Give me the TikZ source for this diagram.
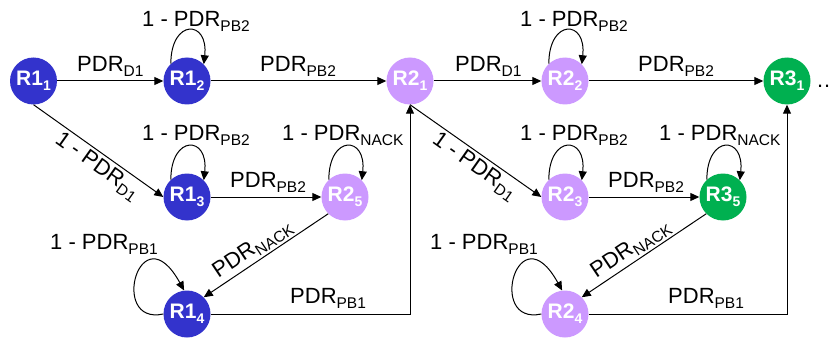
\documentclass[tikz,border=0pt]{standalone}
\usepackage{fontspec}
\setmainfont{Liberation Sans}
\usetikzlibrary{arrows.meta}
\definecolor{roundone}{HTML}{3333CC}
\definecolor{roundtwo}{HTML}{CC99FF}
\definecolor{roundthree}{HTML}{00B050}
\newcommand{\pdr}[1]{PDR\raisebox{-5pt}{\fontsize{15.5}{16}\selectfont #1}}
\newcommand{\rstate}[2]{R#1\raisebox{-5pt}{\fontsize{14}{14}\selectfont #2}}
\tikzset{
	state/.style={circle, fill=#1, minimum size=47pt, inner sep=0pt, text=white, font=\fontsize{21}{21}\selectfont\bfseries},
	trans/.style={-{Triangle[length=9pt,width=8pt]}, line width=1pt},
	lbl/.style={inner sep=0pt, font=\fontsize{22}{22}\selectfont},
}

\begin{document}
\begin{tikzpicture}[x=1pt, y=1pt]
		%%%%% START %%%%%
		\useasboundingbox (0, 0) rectangle (832, 338);
		
		\node[state=roundone] (r11) at (33.5, 257) {\rstate{1}{1}};
		\node[state=roundone] (r12) at (187, 257) {\rstate{1}{2}};
		\node[state=roundone] (r13) at (187, 141) {\rstate{1}{3}};
		\node[state=roundone] (r14) at (187, 24) {\rstate{1}{4}};
		\node[state=roundtwo] (r25) at (345, 141) {\rstate{2}{5}};
		
		\node[state=roundtwo] (r21) at (410, 257) {\rstate{2}{1}};
		\node[state=roundtwo] (r22) at (565, 257) {\rstate{2}{2}};
		\node[state=roundtwo] (r23) at (565, 141) {\rstate{2}{3}};
		\node[state=roundtwo] (r24) at (565, 24) {\rstate{2}{4}};
		\node[state=roundthree] (r35) at (723, 141) {\rstate{3}{5}};
		
		\node[state=roundthree] (r31) at (787, 257) {\rstate{3}{1}};
		\node[lbl, anchor=base west] (more) at (816, 251) {…};
		
		% first round
		\draw[trans] (r11) -- (r12);
		\draw[trans] (r12) -- (r21);
		\draw[trans] (r13) -- (r25);
		\draw[trans] (r11.south) -- node[lbl, sloped, below, pos=0.55, inner sep=3pt] (d1a) {1 - \pdr{D1}} (r13.west);
		\draw[trans] (r25.south west) -- node[lbl, sloped, above, pos=0.55, inner sep=2pt] (nacka) {\pdr{NACK}} (r14.north east);
		\draw[trans] (r14) -| (r21);
		\draw[trans] (r12.133) .. controls +(0, 45) and +(5, 45) .. (r12.45);
		\draw[trans] (r13.133) .. controls +(0, 45) and +(5, 45) .. (r13.45);
		\draw[trans] (r25.133) .. controls +(0, 45) and +(5, 45) .. (r25.45);
		\draw[trans] (r14.180) .. controls +(-55, -12) and +(-44, 80) .. (r14.97);
		
		\node[lbl, anchor=base west] (pd1a) at (77, 266) {\pdr{D1}};
		\node[lbl, anchor=base west] (pb2a) at (260, 266) {\pdr{PB2}};
		\node[lbl, anchor=base west] (pb2b) at (230, 151) {\pdr{PB2}};
		\node[lbl, anchor=base west] (pb1a) at (290, 35) {\pdr{PB1}};
		\node[lbl, anchor=base west] (loopa) at (142, 311) {1 - \pdr{PB2}};
		\node[lbl, anchor=base west] (loopb) at (142, 198) {1 - \pdr{PB2}};
		\node[lbl, anchor=base west] (loopc) at (282, 198) {1 - \pdr{NACK}};
		\node[lbl, anchor=base west] (loopd) at (50, 89) {1 - \pdr{PB1}};
		
		% second round
		\draw[trans] (r21) -- (r22);
		\draw[trans] (r22) -- (r31);
		\draw[trans] (r23) -- (r35);
		\draw[trans] (r21.south) -- node[lbl, sloped, below, pos=0.55, inner sep=3pt] (d1b) {1 - \pdr{D1}} (r23.west);
		\draw[trans] (r35.south west) -- node[lbl, sloped, above, pos=0.55, inner sep=2pt] (nackb) {\pdr{NACK}} (r24.north east);
		\draw[trans] (r24) -| (r31);
		\draw[trans] (r22.133) .. controls +(0, 45) and +(5, 45) .. (r22.45);
		\draw[trans] (r23.133) .. controls +(0, 45) and +(5, 45) .. (r23.45);
		\draw[trans] (r35.133) .. controls +(0, 45) and +(5, 45) .. (r35.45);
		\draw[trans] (r24.180) .. controls +(-55, -12) and +(-44, 80) .. (r24.97);
		
		\node[lbl, anchor=base west] (pd1b) at (455, 266) {\pdr{D1}};
		\node[lbl, anchor=base west] (pb2c) at (638, 266) {\pdr{PB2}};
		\node[lbl, anchor=base west] (pb2d) at (608, 151) {\pdr{PB2}};
		\node[lbl, anchor=base west] (pb1b) at (668, 35) {\pdr{PB1}};
		\node[lbl, anchor=base west] (loope) at (520, 311) {1 - \pdr{PB2}};
		\node[lbl, anchor=base west] (loopf) at (520, 198) {1 - \pdr{PB2}};
		\node[lbl, anchor=base west] (loopg) at (659, 198) {1 - \pdr{NACK}};
		\node[lbl, anchor=base west] (looph) at (430, 89) {1 - \pdr{PB1}};
		
		%%%%% END %%%%%
\end{tikzpicture}
\end{document}
